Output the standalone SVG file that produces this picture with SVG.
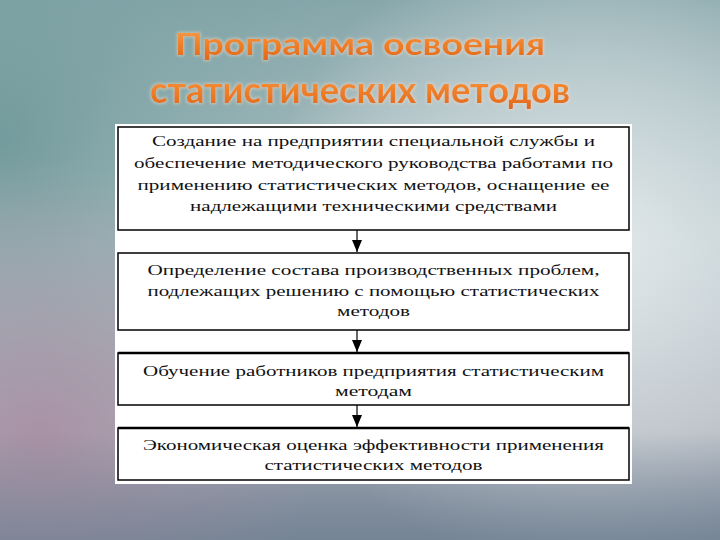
<svg xmlns="http://www.w3.org/2000/svg" width="720" height="540" viewBox="0 0 720 540">
<defs>
<linearGradient id="bgBase" x1="0" y1="0" x2="0" y2="1">
<stop offset="0" stop-color="#86a6aa"/>
<stop offset="0.45" stop-color="#bccacd"/>
<stop offset="0.8" stop-color="#aeb0ba"/>
<stop offset="1" stop-color="#7f8c9c"/>
</linearGradient>
<radialGradient id="bgLight" cx="590" cy="250" r="330" gradientUnits="userSpaceOnUse">
<stop offset="0" stop-color="#e6ecee" stop-opacity="0.95"/>
<stop offset="0.6" stop-color="#d6dfe2" stop-opacity="0.5"/>
<stop offset="1" stop-color="#d6dfe2" stop-opacity="0"/>
</radialGradient>
<radialGradient id="bgTeal" cx="0" cy="140" r="380" gradientUnits="userSpaceOnUse">
<stop offset="0" stop-color="#6a9596" stop-opacity="0.85"/>
<stop offset="0.5" stop-color="#7aa2a3" stop-opacity="0.5"/>
<stop offset="1" stop-color="#7aa2a3" stop-opacity="0"/>
</radialGradient>
<radialGradient id="bgMauve" cx="40" cy="440" r="280" gradientUnits="userSpaceOnUse">
<stop offset="0" stop-color="#a98ea3" stop-opacity="0.9"/>
<stop offset="1" stop-color="#b59cae" stop-opacity="0"/>
</radialGradient>
<linearGradient id="bgBottom" x1="0" y1="0" x2="0" y2="1">
<stop offset="0.8" stop-color="#6e7f90" stop-opacity="0"/>
<stop offset="1" stop-color="#6e7f90" stop-opacity="0.6"/>
</linearGradient>
<linearGradient id="titleFill" x1="0" y1="0" x2="0" y2="1">
<stop offset="0" stop-color="#f9a555"/>
<stop offset="0.5" stop-color="#f0822a"/>
<stop offset="1" stop-color="#dd6418"/>
</linearGradient>
<filter id="glow" x="-10%" y="-30%" width="120%" height="160%">
<feMorphology in="SourceAlpha" operator="dilate" radius="1" result="d"/>
<feGaussianBlur in="d" stdDeviation="1.8" result="b"/>
<feFlood flood-color="#f2d9c0" flood-opacity="0.55"/>
<feComposite in2="b" operator="in" result="halo"/>
<feMerge><feMergeNode in="halo"/><feMergeNode in="SourceGraphic"/></feMerge>
</filter>
<marker id="arrow" viewBox="0 0 12 10" refX="12" refY="5" markerWidth="12" markerHeight="10" markerUnits="userSpaceOnUse" orient="auto">
<path d="M0,0 L12,5 L0,10 Z" fill="#000"/>
</marker>
</defs>
<style>
.box{fill:#fff;stroke:#000;stroke-width:1.5}
.t{font-family:"Liberation Serif","Times New Roman",serif;font-size:15px;fill:#111;text-anchor:middle}
.title{font-family:Lato,"Open Sans",sans-serif;font-weight:bold;fill:url(#titleFill);text-anchor:middle}
.conn{stroke:#000;stroke-width:1.2;fill:none}
</style>
<rect width="720" height="540" fill="url(#bgBase)"/>
<rect width="720" height="540" fill="url(#bgTeal)"/>
<rect width="720" height="540" fill="url(#bgMauve)"/>
<rect width="720" height="540" fill="url(#bgLight)"/>
<rect width="720" height="540" fill="url(#bgBottom)"/>

<g id="title" filter="url(#glow)">
<text class="title" x="360" y="55" font-size="31" textLength="370" lengthAdjust="spacingAndGlyphs">Программа освоения</text>
<text class="title" x="360" y="103" font-size="36" textLength="420" lengthAdjust="spacingAndGlyphs">статистических методов</text>
</g>

<rect id="panel" x="115" y="124" width="517" height="360" fill="#fff"/>

<g id="node1">
<rect class="box" x="118" y="127" width="511" height="103"/>
<text class="t" x="373.5" y="146" textLength="443" lengthAdjust="spacingAndGlyphs">Создание на предприятии специальной службы и</text>
<text class="t" x="373.5" y="168" textLength="479" lengthAdjust="spacingAndGlyphs">обеспечение методического руководства работами по</text>
<text class="t" x="373.5" y="190" textLength="472" lengthAdjust="spacingAndGlyphs">применению статистических методов, оснащение ее</text>
<text class="t" x="373.5" y="211" textLength="367" lengthAdjust="spacingAndGlyphs">надлежащими техническими средствами</text>
</g>
<g id="node2">
<rect class="box" x="118" y="253" width="511" height="77"/>
<text class="t" x="373.5" y="275" textLength="452" lengthAdjust="spacingAndGlyphs">Определение состава производственных проблем,</text>
<text class="t" x="373.5" y="296" textLength="452" lengthAdjust="spacingAndGlyphs">подлежащих решению с помощью статистических</text>
<text class="t" x="373.5" y="316" textLength="73" lengthAdjust="spacingAndGlyphs">методов</text>
</g>
<g id="node3">
<rect class="box" x="118" y="353" width="511" height="52"/>
<line x1="118" y1="353" x2="629" y2="353" stroke="#000" stroke-width="2.5"/>
<text class="t" x="373.5" y="376" textLength="461" lengthAdjust="spacingAndGlyphs">Обучение работников предприятия статистическим</text>
<text class="t" x="373.5" y="396" textLength="77" lengthAdjust="spacingAndGlyphs">методам</text>
</g>
<g id="node4">
<rect class="box" x="118" y="428" width="511" height="52"/>
<line x1="118" y1="428" x2="629" y2="428" stroke="#000" stroke-width="2.5"/>
<text class="t" x="373.5" y="450" textLength="461" lengthAdjust="spacingAndGlyphs">Экономическая оценка эффективности применения</text>
<text class="t" x="373.5" y="470" textLength="218" lengthAdjust="spacingAndGlyphs">статистических методов</text>
</g>

<g id="connectors">
<line class="conn" x1="357" y1="230" x2="357" y2="252" marker-end="url(#arrow)"/>
<line class="conn" x1="357" y1="330" x2="357" y2="352" marker-end="url(#arrow)"/>
<line class="conn" x1="357" y1="405" x2="357" y2="427" marker-end="url(#arrow)"/>
</g>
</svg>
